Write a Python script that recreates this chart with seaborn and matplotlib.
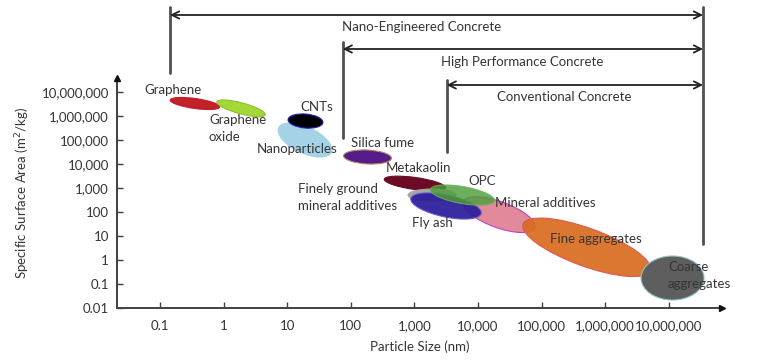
import numpy as np
import pandas as pd
import matplotlib
matplotlib.use("Agg")
import matplotlib.pyplot as plt
import seaborn as sns
from matplotlib.patches import Ellipse
from matplotlib.transforms import Affine2D

# ---------------- data (log10 units) ----------------
materials = ["Graphene", "Graphene oxide", "Nanoparticles", "CNTs", "Silica fume",
             "Metakaolin", "Finely ground mineral additives", "Mineral additives",
             "Fly ash", "OPC", "Fine aggregates", "Coarse aggregates"]
size_log = [-0.45, 0.274, 1.28, 1.288, 2.263, 3.009, 3.277, 4.33, 3.497, 3.756, 5.709, 7.058]
ssa_log = [6.51, 6.31, 4.99, 5.78, 4.284, 3.181, 2.70, 1.883, 2.245, 2.70, 0.526, -0.752]
major_span = [0.786, 0.786, 0.912, 0.55, 0.755, 0.975, 0.755, 1.195, 1.132, 1.022, 2.13, 0.99]
minor_span = [0.157, 0.173, 0.409, 0.22, 0.22, 0.189, 0.189, 0.409, 0.346, 0.267, 0.597, 0.692]
tilt_deg = [-8, -15, -25, -5, -3, -8, 0, -20, -12, -10, -20, 0]
face_colors = ["#c2202b", "#a3d838", "#a6d2e6", "#000000", "#561c8c", "#6c0b24",
               "#a8a8a8", "#e08a9c", "#2a1d9a", "#4c9e38", "#d86b1f", "#5e5e5e"]
edge_colors = ["#c2202b", "#8cc030", "#a6d2e6", "#2222bb", "#b89060", "#6c0b24",
               "#a8a8a8", "#c040c0", "#6a5acd", "#70b060", "#e05050", "#8cc4c4"]
face_alpha = [1, 1, 1, 1, 1, 1, 1, 1, 0.93, 0.82, 0.92, 1]

label_texts = ["Graphene", "Graphene\noxide", "Nanoparticles", "CNTs", "Silica fume",
               "Metakaolin", "Finely ground\nmineral additives", "Mineral additives",
               "Fly ash", "OPC", "Fine aggregates", "Coarse\naggregates"]
label_x = [-0.796, -0.23, 1.154, 1.469, 1.998, 2.553, 1.17, 4.267, 2.962, 3.843, 5.132, 6.987]
label_y = [7.072, 5.47, 4.617, 6.365, 4.879, 3.814, 2.59, 2.37, 1.537, 3.285, 0.871, -0.648]
label_ha = ["center", "left", "center", "center", "left", "left", "left", "left",
            "left", "left", "left", "left"]

x_ticks = [-1, 0, 1, 2, 3, 4, 5, 6, 7]
x_tick_labels = ["0.1", "1", "10", "100", "1,000", "10,000", "100,000", "1,000,000", "10,000,000"]
y_ticks = [-2, -1, 0, 1, 2, 3, 4, 5, 6, 7]
y_tick_labels = ["0.01", "0.1", "1", "10", "100", "1,000", "10,000", "100,000",
                 "1,000,000", "10,000,000"]

concrete_types = ["Nano-Engineered Concrete", "High Performance Concrete", "Conventional Concrete"]
range_start = [-0.843, 1.873, 3.508]
range_end = [7.538, 7.538, 7.538]
arrow_y = [10.193, 8.778, 7.28]
vline_top = [10.53, 9.07, 7.49]
vline_bottom = [7.78, 5.075, 4.49]
range_text_x = [3.12, 4.69, 5.35]
range_text_y = [9.69, 8.237, 6.78]
right_line = (7.538, 10.53, 0.663)

# ---------------- style ----------------
sns.set_theme(style="ticks")
plt.rcParams["font.family"] = ["Lato", "DejaVu Sans"]
txt_color = "#353535"
axis_color = "#404040"
fs = 9.5

fig = plt.figure(figsize=(7.68, 3.6), dpi=100)
ax = fig.add_axes([117.3 / 768, 52 / 360, (722 - 117.3) / 768, (308 - 78) / 360])
ax.set_xlim(-1.671, 7.836)
ax.set_ylim(-2, 7.571)

for s in ["top", "right"]:
    ax.spines[s].set_visible(False)
for s in ["left", "bottom"]:
    ax.spines[s].set_color(axis_color)
    ax.spines[s].set_linewidth(1.4)
ax.plot(1, 0, ">", color="#111111", markersize=5, transform=ax.transAxes, clip_on=False, zorder=5)
ax.plot(0, 1, "^", color="#111111", markersize=5, transform=ax.transAxes, clip_on=False, zorder=5)

ax.set_xticks(x_ticks)
ax.set_xticklabels(x_tick_labels)
ax.set_yticks(y_ticks)
ax.set_yticklabels(y_tick_labels)
ax.tick_params(axis="both", direction="in", length=4, width=1, color=axis_color,
               labelsize=fs, labelcolor=txt_color)
ax.tick_params(axis="x", pad=9)
ax.tick_params(axis="y", pad=6)
ax.set_xlabel("Particle Size (nm)", fontsize=fs, color=txt_color, labelpad=6)
ax.set_ylabel("Specific Surface Area (m$^2$/kg)", fontsize=fs, color=txt_color, labelpad=7)

# ratio of pixel scale y/x so ellipses tilt visually
fig.canvas.draw()
p0 = ax.transData.transform((0, 0))
px = ax.transData.transform((1, 0))
py = ax.transData.transform((0, 1))
k = (py[1] - p0[1]) / (px[0] - p0[0])
iso = Affine2D().scale(1, 1 / k) + ax.transData

df = pd.DataFrame({"material": materials, "x": size_log, "y": ssa_log,
                   "w": major_span, "h": minor_span, "ang": tilt_deg,
                   "fc": face_colors, "ec": edge_colors, "a": face_alpha})
for i, r in df.iterrows():
    e = Ellipse((r["x"], r["y"] * k), r["w"], r["h"], angle=r["ang"],
                facecolor=r["fc"], edgecolor=r["ec"], lw=0.8, alpha=r["a"],
                transform=iso, zorder=3 + i * 0.1)
    ax.add_patch(e)

for t, x, y, ha in zip(label_texts, label_x, label_y, label_ha):
    ax.text(x, y, t, ha=ha, va="center", fontsize=fs, color=txt_color,
            linespacing=1.45, zorder=10, clip_on=False)

# concrete ranges
line_color = "#505050"
for name, xs, xe, ya, vt, vb, tx, ty in zip(concrete_types, range_start, range_end, arrow_y,
                                             vline_top, vline_bottom, range_text_x, range_text_y):
    ax.annotate("", xy=(xe, ya), xytext=(xs, ya),
                arrowprops=dict(arrowstyle="<->", color="#222222", lw=1.3,
                                mutation_scale=13, shrinkA=0, shrinkB=0),
                annotation_clip=False, zorder=6)
    ax.plot([xs, xs], [vb, vt], color=line_color, lw=2, clip_on=False, zorder=2)
    ax.text(tx, ty, name, ha="center", va="center", fontsize=fs, color=txt_color,
            clip_on=False)
ax.plot([right_line[0]] * 2, [right_line[2], right_line[1]], color=line_color, lw=2,
        clip_on=False, zorder=2)

fig.savefig("out.png", dpi=100)
